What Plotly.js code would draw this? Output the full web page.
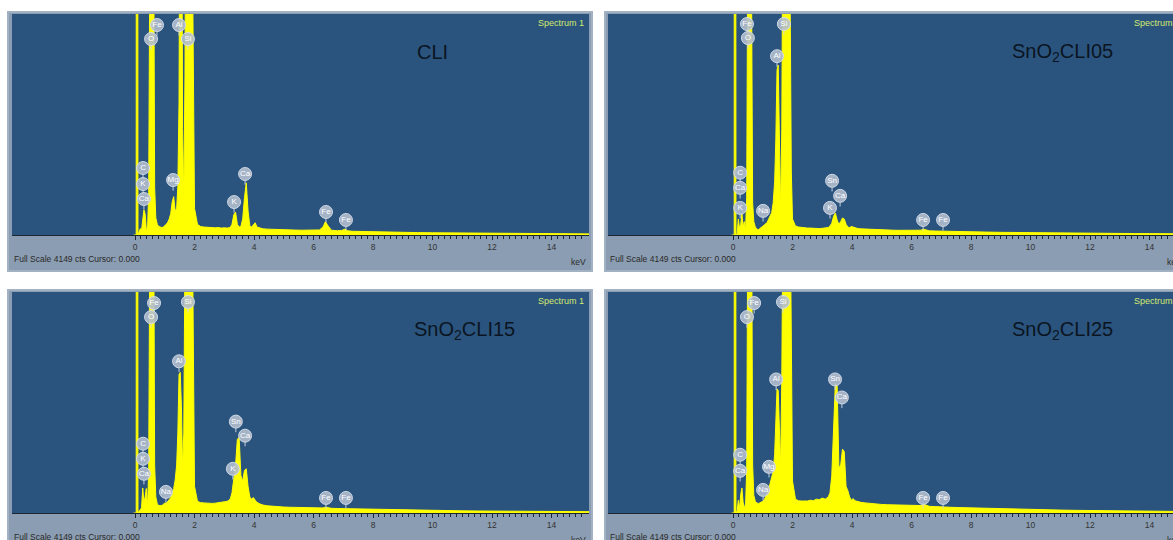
<!DOCTYPE html>
<html><head><meta charset="utf-8">
<script src="https://cdn.plot.ly/plotly-3.0.1.min.js"></script>
<style>html,body{margin:0;padding:0;background:#fff;}#chart{width:1173px;height:540px;}</style>
</head><body><div id="chart"></div>
<script>
// ---- data (keV grid shared by all four spectra) ----
const KEV = [
 -0.05,0.04,0.05,0.06,0.10,0.11,0.14,0.18,0.22,0.26,
 0.30,0.34,0.38,0.42,0.46,0.50,0.54,0.58,0.62,0.66,
 0.70,0.75,0.80,0.85,0.90,0.95,1.00,1.05,1.10,1.15,
 1.20,1.25,1.30,1.35,1.40,1.44,1.48,1.52,1.56,1.60,
 1.64,1.68,1.72,1.76,1.80,1.84,1.88,1.92,1.96,2.00,
 2.10,2.20,2.30,2.40,2.50,2.60,2.70,2.80,2.90,3.00,
 3.10,3.20,3.26,3.32,3.38,3.44,3.50,3.56,3.62,3.68,
 3.74,3.80,3.86,3.92,3.98,4.04,4.10,4.20,4.30,4.45,
 4.60,4.80,5.00,5.20,5.40,5.60,5.80,6.00,6.20,6.32,
 6.40,6.48,6.60,6.80,6.95,7.05,7.15,7.30,7.60,8.00,
 8.50,9.00,9.50,10.0,10.5,11.0,11.5,12.0,12.5,13.0,
 13.5,14.0,14.5,15.0,15.5];

const CNT_CLI = [
 0,0,40000,40000,0,20,40,120,90,300,
 470,400,110,90,800,5500,14000,14000,7000,900,
 320,200,160,150,140,150,170,200,240,300,
 400,620,720,450,500,900,2500,9000,9000,2000,
 650,3000,9000,14000,16000,15000,11000,6000,2500,500,
 200,160,150,145,150,140,135,140,130,135,
 130,140,200,380,430,200,150,160,300,700,
 980,450,170,150,200,230,150,125,115,110,
 105,100,98,95,92,90,88,85,95,150,
 250,180,90,80,85,110,80,70,65,60,
 55,50,45,42,40,36,34,32,30,28,
 26,25,24,22,20];

const CNT_05 = [
 0,0,40000,40000,0,20,30,300,120,200,
 400,150,250,70,700,6000,14000,13000,5000,600,
 250,150,110,100,120,140,160,180,210,240,
 300,350,420,600,1000,1800,3100,3190,1600,450,
 2000,7000,13000,16000,16000,14000,9000,4500,1200,300,
 170,150,140,135,130,130,125,130,120,125,
 130,140,170,220,350,415,280,200,250,320,
 300,200,150,140,160,150,130,120,115,110,
 105,100,95,92,90,88,85,82,80,90,
 110,95,78,75,72,80,70,68,65,60,
 55,50,46,43,40,37,35,33,31,29,
 27,26,25,24,22];

const CNT_15 = [
 0,0,40000,40000,0,20,40,60,100,470,
 200,300,460,100,800,5500,14000,14000,7000,900,
 300,170,140,135,140,160,190,185,210,250,
 290,360,460,620,900,1500,2600,2640,2000,830,
 1500,5000,12000,16000,16000,15000,11000,6000,2500,500,
 220,195,190,185,190,180,185,190,200,210,
 220,260,380,600,900,1380,1420,700,600,800,
 830,500,300,260,290,240,200,170,150,135,
 125,118,112,108,104,100,97,94,92,95,
 110,100,88,84,82,88,78,75,70,65,
 60,55,50,47,44,41,38,36,34,32,
 30,28,27,26,24];

const CNT_25 = [
 0,0,40000,40000,0,20,40,240,80,350,
 470,200,120,110,800,6000,14000,14000,6500,900,
 330,220,190,180,190,200,220,250,300,370,
 450,560,660,780,1100,1700,2330,2300,1300,850,
 2500,8000,14000,16000,16000,15000,11000,6000,2500,600,
 260,230,225,220,225,240,230,260,250,280,
 260,300,380,700,1700,2430,2400,850,900,1200,
 1150,500,420,300,240,270,230,210,200,190,
 180,170,160,155,150,145,140,135,130,140,
 165,150,125,120,118,125,112,108,102,95,
 88,80,72,66,60,55,50,46,42,38,
 35,32,30,28,26];

// element labels (keV, counts)
const LBL_CLI   = ['Fe','O','Al','Si','C','K','Ca','Mg','K','Ca','Fe','Fe'];
const LBL_CLI_X = [0.74,0.54,1.48,1.78,0.27,0.27,0.30,1.28,3.33,3.70,6.42,7.09];
const LBL_CLI_Y = [3942,3679,3942,3679,1258,957,676,1032,619,1145,432,282];

const LBL_05   = ['Fe','O','Si','Al','C','Ca','K','Na','Sn','Ca','K','Fe','Fe'];
const LBL_05_X = [0.47,0.50,1.71,1.48,0.24,0.24,0.24,1.01,3.33,3.60,3.26,6.39,7.06];
const LBL_05_Y = [3961,3697,3961,3357,1169,886,509,453,1018,735,509,283,283];

const LBL_15   = ['Fe','O','Si','Al','C','K','Ca','Na','Sn','Ca','K','Fe','Fe'];
const LBL_15_X = [0.64,0.54,1.78,1.48,0.27,0.27,0.30,1.04,3.39,3.70,3.29,6.42,7.09];
const LBL_15_Y = [3942,3678,3961,2848,1301,1018,736,396,1716,1452,830,283,283];

const LBL_25   = ['Fe','O','Si','Al','Sn','Ca','C','Ca','Mg','Na','Fe','Fe'];
const LBL_25_X = [0.71,0.47,1.68,1.45,3.43,3.66,0.24,0.24,1.21,1.01,6.39,7.06];
const LBL_25_Y = [3942,3678,3961,2508,2508,2169,1094,792,867,434,283,283];

const TITLES = ['CLI','SnO<sub>2</sub>CLI05','SnO<sub>2</sub>CLI15','SnO<sub>2</sub>CLI25'];
const TICKS = [0,2,4,6,8,10,12,14];
const TICK_TEXT = ['0','2','4','6','8','10','12','14'];
const FULL_SCALE = 'Full Scale 4149 cts Cursor: 0.000';
const SPECTRUM = 'Spectrum 1';
const UNIT = 'keV';
const YMAX = 4149;

// ---- layout helpers ----
const W = 1173, H = 540, KPX = 29.75;
const px = p => p / W, py = p => 1 - p / H;
const FONT = 'Liberation Sans, Arial, sans-serif';

const panels = [
  {cnt:CNT_CLI, lab:LBL_CLI, lx:LBL_CLI_X, ly:LBL_CLI_Y, xs:[12,589], ys:[14,235], zero:135, frame:[8,592,12,271], title:[432,52]},
  {cnt:CNT_05,  lab:LBL_05,  lx:LBL_05_X,  ly:LBL_05_Y,  xs:[608,1173], ys:[14,235], zero:733, frame:[605,1185,12,271], title:[1062,52]},
  {cnt:CNT_15,  lab:LBL_15,  lx:LBL_15_X,  ly:LBL_15_Y,  xs:[12,589], ys:[292,513], zero:135, frame:[8,592,290,548], title:[464,330]},
  {cnt:CNT_25,  lab:LBL_25,  lx:LBL_25_X,  ly:LBL_25_Y,  xs:[608,1173], ys:[292,513], zero:733, frame:[605,1185,290,548], title:[1062,330]}
];

const minorVals = [];
for (let i = 0; i <= 75; i++) { const v = +(i * 0.2).toFixed(1); if (v % 2 !== 0) minorVals.push(v); }

const data = [], shapes = [], annotations = [];
const layout = {
  width: W, height: H, margin:{l:0,r:0,t:0,b:0},
  paper_bgcolor:'#ffffff', plot_bgcolor:'rgba(0,0,0,0)',
  showlegend:false, font:{family:FONT}
};

panels.forEach((p, i) => {
  const n = i === 0 ? '' : String(i + 1);
  const xa = 'x' + n, ya = 'y' + n;
  const range = [(p.xs[0] - p.zero) / KPX, (p.xs[1] - p.zero) / KPX];
  layout['xaxis' + n] = {
    domain:[px(p.xs[0]), px(p.xs[1])], range:range, anchor:ya,
    showgrid:false, zeroline:false, showline:true, linecolor:'#1c2733', linewidth:1,
    ticks:'outside', ticklen:4, tickwidth:1, tickcolor:'#1c2733',
    tickmode:'array', tickvals:TICKS, ticktext:TICK_TEXT,
    tickfont:{size:8.5, color:'#333', family:FONT},
    minor:{tickmode:'array', tickvals:minorVals, ticks:'outside', ticklen:2.5, tickwidth:1, tickcolor:'#1c2733', showgrid:false},
    fixedrange:true
  };
  layout['yaxis' + n] = {
    domain:[py(p.ys[1]), py(p.ys[0])], range:[0, YMAX], anchor:xa,
    visible:false, fixedrange:true
  };
  // frame + strip
  shapes.push({type:'rect', xref:'paper', yref:'paper', layer:'below',
    x0:px(p.frame[0]), x1:px(p.frame[1]), y0:py(p.frame[3]), y1:py(p.frame[2]),
    fillcolor:'#8b9db2', line:{color:'#a3b2c3', width:2}});
  shapes.push({type:'rect', xref:'paper', yref:'paper', layer:'below',
    x0:px(p.xs[0]), x1:px(p.xs[1]), y0:py(p.ys[1]), y1:py(p.ys[0]),
    fillcolor:'#2a547e', line:{width:0}});

  data.push({type:'scatter', mode:'lines', x:KEV, y:p.cnt, xaxis:xa, yaxis:ya,
    fill:'tozeroy', fillcolor:'#ffff00', line:{color:'#ffff00', width:1}, hoverinfo:'skip'});

  // stems
  const sx = [], sy = [];
  p.lx.forEach((v, k) => { sx.push(v, v, null); sy.push(p.ly[k] - 115, p.ly[k] - 200, null); });
  data.push({type:'scatter', mode:'lines', x:sx, y:sy, xaxis:xa, yaxis:ya,
    line:{color:'rgba(205,214,226,0.95)', width:1}, hoverinfo:'skip', cliponaxis:false});
  data.push({type:'scatter', mode:'markers+text', x:p.lx, y:p.ly, text:p.lab, xaxis:xa, yaxis:ya,
    textposition:'middle center', textfont:{size:8, color:'#ffffff', family:FONT},
    marker:{size:13, color:'rgba(178,190,207,0.9)', line:{color:'rgba(215,223,234,0.9)', width:1}},
    hoverinfo:'skip', cliponaxis:false});

  const top = p.ys[0], bot = p.ys[1];
  annotations.push({xref:'paper', yref:'paper', x:px(p.title[0]), y:py(p.title[1]),
    text:TITLES[i], showarrow:false, xanchor:'center', yanchor:'middle',
    font:{size:20, color:'#0b1522', family:FONT}});
  annotations.push({xref:'paper', yref:'paper', x:px(p.xs[0] + 577 - 3), y:py(top + 9),
    text:SPECTRUM, showarrow:false, xanchor:'right', yanchor:'middle',
    font:{size:9, color:'#d2ea6e', family:FONT}});
  annotations.push({xref:'paper', yref:'paper', x:px(p.xs[0]), y:py(bot + 24),
    text:FULL_SCALE, showarrow:false, xanchor:'left', yanchor:'middle',
    font:{size:8.5, color:'#2a2a2a', family:FONT}});
  annotations.push({xref:'paper', yref:'paper', x:px(p.xs[0] + 577 - 1), y:py(bot + 27),
    text:UNIT, showarrow:false, xanchor:'right', yanchor:'middle',
    font:{size:8.5, color:'#2a2a2a', family:FONT}});
});

layout.shapes = shapes;
layout.annotations = annotations;
Plotly.newPlot('chart', data, layout, {displayModeBar:false, staticPlot:true});
</script>
</body></html>
